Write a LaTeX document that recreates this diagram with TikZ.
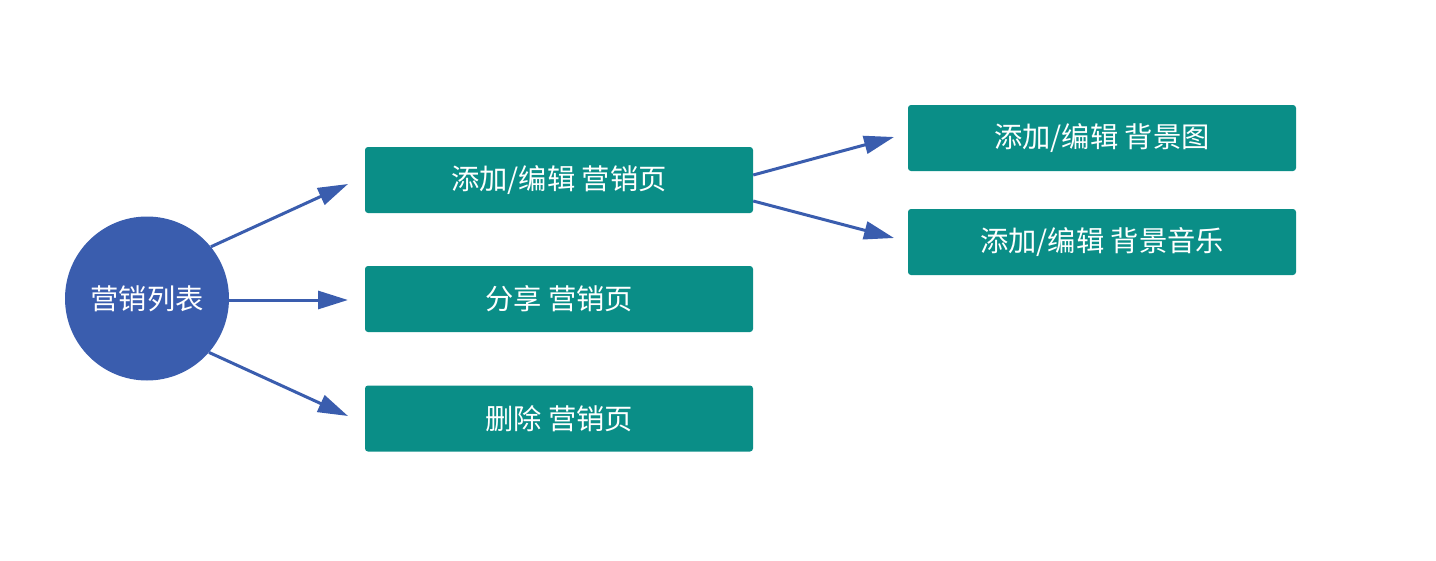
\documentclass[tikz,border=0pt]{standalone}
\usepackage{fontspec}
\setmainfont{Noto Sans CJK SC}
\usetikzlibrary{arrows.meta,calc}
\definecolor{teal}{HTML}{0A8E87}
\definecolor{blu}{HTML}{3A5DAE}
\tikzset{
  box/.style={fill=teal, rounded corners=3pt, minimum width=388pt, minimum height=66pt, inner sep=0pt, text=white, font=\fontsize{28.3}{32}\selectfont},
  hub/.style={circle, fill=blu, minimum size=164pt, inner sep=0pt, text=white, font=\fontsize{28.3}{32}\selectfont},
  conn/.style={draw=blu, line width=3pt, -{Triangle[length=30pt,width=18pt]}}
}
\begin{document}
\begin{tikzpicture}[x=1pt,y=-1pt]
\useasboundingbox (0,0) rectangle (1436,560);
\node[hub] (c) at (147,298.5) {营销列表};
\node[box] (b1) at (559,180) {添加/编辑 营销页};
\node[box] (b2) at (559,299) {分享 营销页};
\node[box] (b3) at (559,418.5) {删除 营销页};
\node[box] (r1) at (1102,138) {添加/编辑 背景图};
\node[box] (r2) at (1102,242) {添加/编辑 背景音乐};
\coordinate (e1) at (348,184);
\coordinate (e2) at (348,300);
\coordinate (e3) at (348,416);
\coordinate (e4) at (894,137);
\coordinate (e5) at (894,238);
\draw[conn] (c.39) -- (e1);
\draw[conn] (c.east |- e2) -- (e2);
\draw[conn] (c.-41) -- (e3);
\draw[conn] ($(b1.east)+(0,-5)$) -- (e4);
\draw[conn] ($(b1.east)+(0,21)$) -- (e5);
\end{tikzpicture}
\end{document}
